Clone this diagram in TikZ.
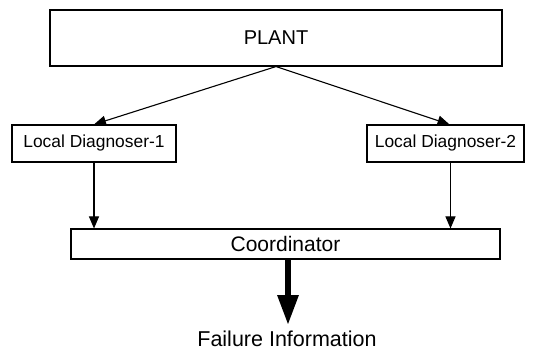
\documentclass[tikz,border=0pt]{standalone}
\usepackage{fontspec}
\setmainfont{Liberation Sans}
\usetikzlibrary{arrows.meta}

\begin{document}
\begin{tikzpicture}[
                        x=1pt, y=1pt,
                        >={Triangle[length=12pt,width=10pt]},
                        block/.style={rectangle, draw, line width=1.1pt, inner sep=0pt}
                    ]
                    \useasboundingbox (0,0) rectangle (546,351);
                    % Blocks
                    \node [block, minimum width=452, minimum height=56, font=\fontsize{20}{24}\selectfont] (plant) at (276,313) {PLANT};
                    \node [block, minimum width=164, minimum height=37, font=\fontsize{17.4}{20}\selectfont] (diag1) at (94,207.5) {Local Diagnoser-1};
                    \node [block, minimum width=157, minimum height=37, font=\fontsize{17.4}{20}\selectfont] (diag2) at (445.5,207.5) {Local Diagnoser-2};
                    \node [block, minimum width=429, minimum height=30, font=\fontsize{21}{24}\selectfont] (coord) at (285.5,107) {Coordinator};
                    \node [font=\fontsize{21.5}{24}\selectfont] (failure) at (287,12) {Failure Information};
                    \coordinate (out) at (288,26);

                    % Connections
                    \draw [->, line width=1.1pt] (plant.south) -- (diag1.north);
                    \draw [->, line width=1.1pt] (plant.south) -- ([xshift=4pt]diag2.north);
                    \draw [->, line width=1.1pt] (diag1.south) -- (diag1.south |- coord.north);
                    \draw [->, line width=1.1pt] ([xshift=5pt]diag2.south) -- ([xshift=5pt]diag2.south |- coord.north);
                    \draw [-{Triangle[length=30pt,width=20pt]}, line width=6pt] ([xshift=2.5pt]coord.south) -- (out);
                \end{tikzpicture}
\end{document}
